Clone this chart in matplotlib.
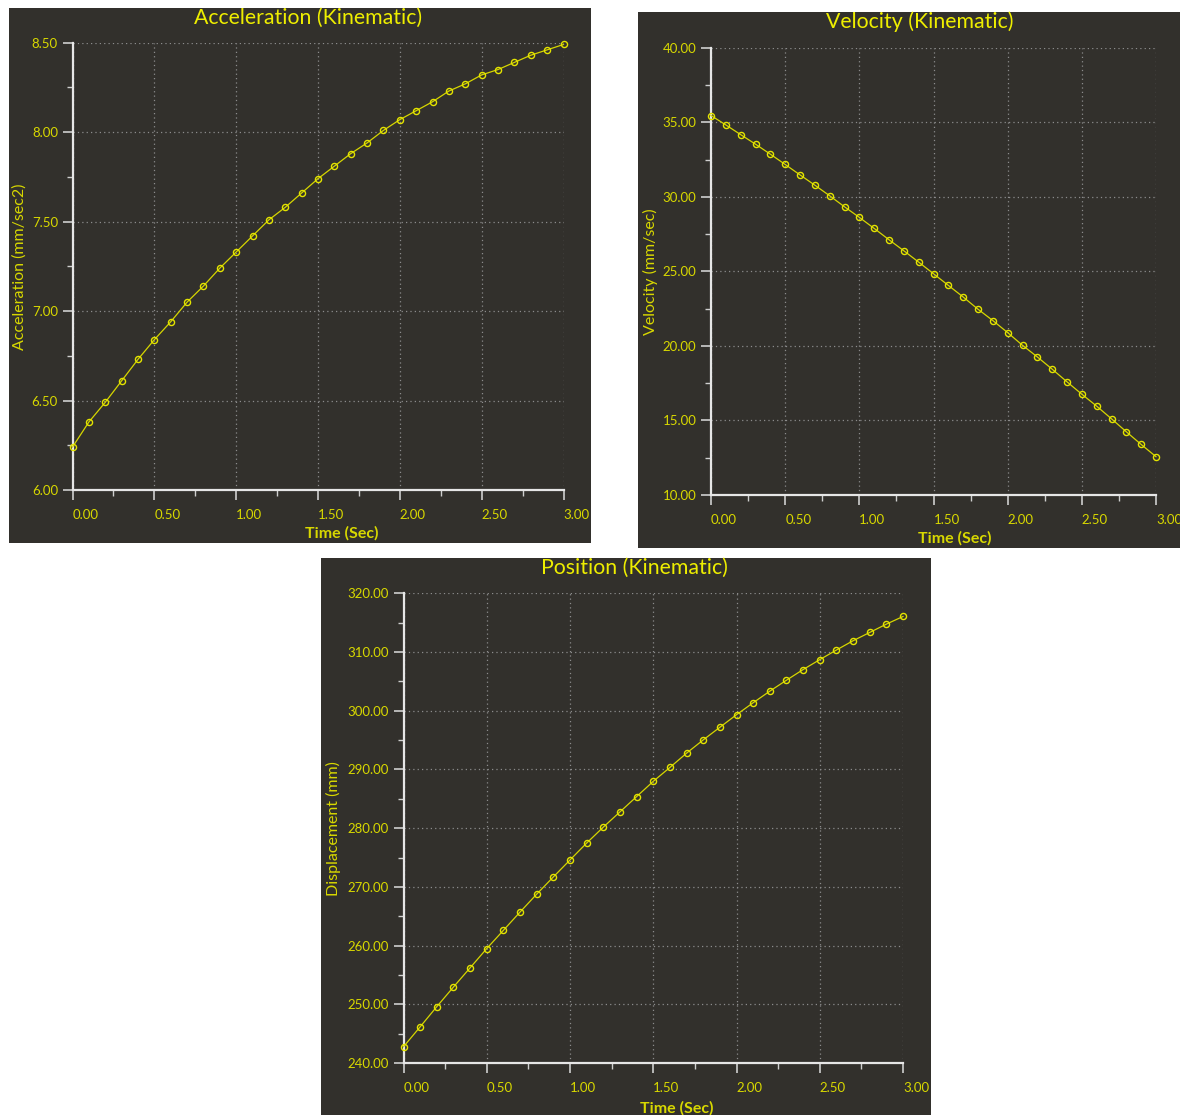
import numpy as np
import matplotlib
matplotlib.use('Agg')
import matplotlib.pyplot as plt
from matplotlib.patches import Rectangle
from matplotlib.ticker import MultipleLocator, FormatStrFormatter

# Sample times (s)
time = [0.0, 0.1, 0.2, 0.3, 0.4, 0.5, 0.6, 0.7, 0.8, 0.9, 1.0,
        1.1, 1.2, 1.3, 1.4, 1.5, 1.6, 1.7, 1.8, 1.9, 2.0,
        2.1, 2.2, 2.3, 2.4, 2.5, 2.6, 2.7, 2.8, 2.9, 3.0]

# Acceleration (mm/sec2)
accel = [6.24, 6.38, 6.49, 6.61, 6.73, 6.84, 6.94, 7.05, 7.14, 7.24, 7.33,
         7.42, 7.51, 7.58, 7.66, 7.74, 7.81, 7.88, 7.94, 8.01, 8.07,
         8.12, 8.17, 8.23, 8.27, 8.32, 8.35, 8.39, 8.43, 8.46, 8.49]

# Velocity (mm/sec)
velocity = [35.45, 34.82, 34.17, 33.53, 32.86, 32.17, 31.47, 30.78, 30.07, 29.33, 28.62,
            27.88, 27.12, 26.38, 25.62, 24.84, 24.06, 23.28, 22.46, 21.70, 20.89,
            20.04, 19.26, 18.44, 17.59, 16.76, 15.96, 15.11, 14.24, 13.39, 12.57]

# Displacement (mm)
position = [242.77, 246.16, 249.60, 252.94, 256.21, 259.49, 262.60, 265.71, 268.76, 271.69, 274.58,
            277.46, 280.17, 282.77, 285.37, 287.97, 290.34, 292.77, 295.03, 297.18, 299.32,
            301.36, 303.33, 305.20, 307.01, 308.70, 310.34, 311.92, 313.33, 314.75, 316.05]

W, H = 1180, 1115
BG = '#32302c'
YEL = '#d8d800'
TITLE_YEL = '#eeee00'
AXIS_COL = '#e6e6e6'
GRID_COL = '#8c8c8c'

plt.rcParams['font.family'] = ['Lato', 'DejaVu Sans']

fig = plt.figure(figsize=(W / 100, H / 100), dpi=100)
fig.patch.set_facecolor('white')


def fbox(l, t, r, b):
    return [l / W, 1 - b / H, (r - l) / W, (b - t) / H]


def panel(frame, area, title, title_xy, values, ylim, major, ylabel, ylabel_x):
    l, t, r, b = frame
    fig.add_artist(Rectangle((l / W, 1 - b / H), (r - l) / W, (b - t) / H,
                             transform=fig.transFigure, facecolor=BG,
                             edgecolor='none', zorder=0))
    ax = fig.add_axes(fbox(*area))
    ax.set_facecolor(BG)
    ax.set_xlim(0, 3)
    ax.set_ylim(*ylim)

    ax.xaxis.set_major_locator(MultipleLocator(0.5))
    ax.xaxis.set_minor_locator(MultipleLocator(0.25))
    ax.yaxis.set_major_locator(MultipleLocator(major))
    ax.yaxis.set_minor_locator(MultipleLocator(major / 2))
    ax.xaxis.set_major_formatter(FormatStrFormatter('%.2f'))
    ax.yaxis.set_major_formatter(FormatStrFormatter('%.2f'))

    for side in ('top', 'right'):
        ax.spines[side].set_visible(False)
    for side in ('left', 'bottom'):
        ax.spines[side].set_color(AXIS_COL)
        ax.spines[side].set_linewidth(1.6)

    ax.tick_params(which='major', direction='out', length=7.5, width=1.2,
                   color='#cfcfcf', labelcolor=YEL, labelsize=9.5)
    ax.tick_params(which='minor', direction='out', length=4, width=1.0,
                   color='#cfcfcf')
    ax.tick_params(axis='x', which='major', pad=6)
    ax.tick_params(axis='y', which='major', pad=3)
    for lab in ax.get_xticklabels():
        lab.set_horizontalalignment('left')

    ax.grid(True, which='major', color=GRID_COL, linestyle=(0, (1, 2.5)),
            linewidth=0.9)
    ax.set_axisbelow(True)

    ax.plot(time, values, color='#d6d600', linewidth=0.9, clip_on=False,
            zorder=3)
    ax.plot(time, values, linestyle='none', marker='o', markersize=4.4,
            markerfacecolor='none', markeredgecolor='#e4e400',
            markeredgewidth=1.0, clip_on=False, zorder=4)

    ax.set_xlabel('Time (Sec)', color=YEL, fontsize=11.5, fontweight='bold')
    ax.xaxis.set_label_coords(0.548, -0.097)
    ax.xaxis.label.set_va('center')
    ax.set_ylabel(ylabel, color=YEL, fontsize=11.5)
    ax.yaxis.set_label_coords(ylabel_x, 0.5)
    ax.yaxis.label.set_va('center')

    fig.text(title_xy[0] / W, 1 - title_xy[1] / H, title, color=TITLE_YEL,
             fontsize=15.3, ha='center', va='center')
    return ax


panel((9, 8, 591, 543), (72.5, 42.7, 563.5, 490),
      'Acceleration (Kinematic)', (308, 18), accel, (6.0, 8.5), 0.5,
      'Acceleration (mm/sec2)', -0.107)

panel((638, 12, 1180, 548), (711, 47.7, 1156, 495),
      'Velocity (Kinematic)', (919.5, 22), velocity, (10.0, 40.0), 5.0,
      'Velocity (mm/sec)', -0.135)

panel((321, 558, 931, 1115), (403.5, 593.3, 903, 1063),
      'Position (Kinematic)', (634.5, 568), position, (240.0, 320.0), 10.0,
      'Displacement (mm)', -0.141)

fig.savefig('out.png', dpi=100, facecolor=fig.get_facecolor())
